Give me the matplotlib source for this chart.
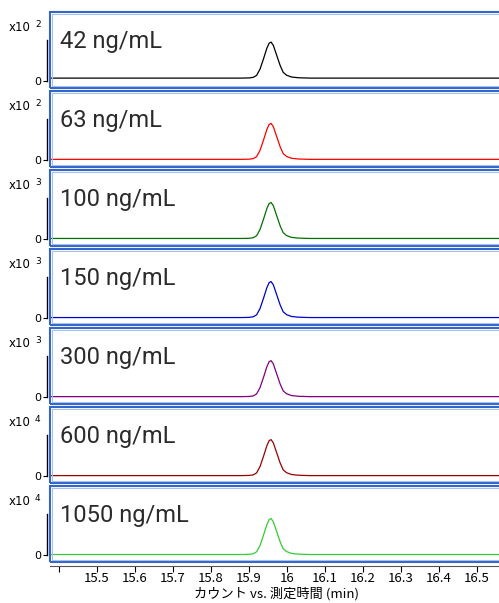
import matplotlib
matplotlib.use("Agg")
import matplotlib.pyplot as plt
from matplotlib.patches import Rectangle

# panel data
labels = ["42 ng/mL", "63 ng/mL", "100 ng/mL", "150 ng/mL", "300 ng/mL", "600 ng/mL", "1050 ng/mL"]
exponents = [2, 2, 3, 3, 3, 4, 4]
peak_heights = [560, 850, 1350, 2000, 4000, 8100, 14500]   # counts
baselines = [45, 15, 20, 25, 40, 90, 200]                  # counts
colors = ["#000000", "#ff0000", "#007000", "#0000cc", "#800080", "#990000", "#33cc33"]

# peak shape (time in min, relative intensity)
times = [15.35, 15.880, 15.900, 15.911, 15.920, 15.929, 15.938, 15.947, 15.953, 15.958,
         15.964, 15.973, 15.982, 15.990, 15.999, 16.012, 16.030, 16.060, 16.600]
shape = [0.0, 0.0, 0.005, 0.02, 0.075, 0.25, 0.53, 0.83, 0.97, 1.0,
         0.91, 0.63, 0.35, 0.16, 0.08, 0.03, 0.01, 0.0, 0.0]

xticks = [15.4, 15.5, 15.6, 15.7, 15.8, 15.9, 16.0, 16.1, 16.2, 16.3, 16.4, 16.5]
xticklabels = ["", "15.5", "15.6", "15.7", "15.8", "15.9", "16", "16.1", "16.2", "16.3", "16.4", "16.5"]
xlabel = "カウント vs. 測定時間 (min)"

W, H = 499, 603
fig = plt.figure(figsize=(W / 100, H / 100), dpi=100)

left_px, right_px = 49.7, 505
x0 = 15.5 - (97 - left_px) / 380
x1 = 15.5 + (right_px - 97) / 380
box_h = 76
ax_w = right_px - left_px
blue = "#3366cc"
light_blue = "#a8c0ea"
cjk = ["Noto Sans CJK JP", "DejaVu Sans"]

for i in range(7):
    top = 12 + 79 * i
    bottom = top + box_h
    ax = fig.add_axes([left_px / W, 1 - bottom / H, ax_w / W, box_h / H])
    pk = peak_heights[i]
    y = [baselines[i] + s * pk for s in shape]
    ax.plot(times, y, color=colors[i], lw=0.9)
    ax.set_xlim(x0, x1)
    ax.set_ylim(-7 / 36 * pk, 69 / 36 * pk)

    for s in ["top", "right", "bottom"]:
        ax.spines[s].set_visible(False)
    ax.spines["left"].set_position(("outward", 2))
    ax.spines["left"].set_bounds(0, 1.15 * pk)
    ax.spines["left"].set_linewidth(1.0)
    ax.set_yticks([0])
    ax.set_yticklabels(["0"], fontsize=8, family="DejaVu Sans")
    ax.tick_params(axis="y", length=3, width=0.8, pad=1)

    # blue frame: dark outer line with a light inner line
    ax.add_patch(Rectangle((0, 0), 1, 1, transform=ax.transAxes, fill=False,
                           ec=blue, lw=1.5, clip_on=False, zorder=5))
    dx, dy = 1.8 / ax_w, 1.8 / box_h
    ax.add_patch(Rectangle((dx, dy), 1 - 2 * dx, 1 - 2 * dy, transform=ax.transAxes, fill=False,
                           ec=light_blue, lw=0.8, clip_on=False, zorder=5))

    if i == 6:
        ax.spines["bottom"].set_visible(True)
        ax.spines["bottom"].set_position(("outward", 3))
        ax.spines["bottom"].set_color("#555555")
        ax.set_xticks(xticks)
        ax.set_xticklabels(xticklabels, fontsize=9.5, family=cjk)
        ax.tick_params(axis="x", length=4, width=0.8, pad=0)
    else:
        ax.set_xticks([])

    fig.text(60 / W, 1 - (top + 36) / H, labels[i], fontsize=17, family="Roboto",
             color="#2b2b2b", va="baseline")
    fig.text(9 / W, 1 - (top + 19) / H, "x10", fontsize=8.5, family="DejaVu Sans", va="baseline")
    fig.text(35 / W, 1 - (top + 15) / H, str(exponents[i]), fontsize=6.5, family="DejaVu Sans",
             va="baseline")

fig.text(276 / W, 1 - 594 / H, xlabel, fontsize=9.5, family=cjk, ha="center", va="center")

fig.savefig("out.png", dpi=100)
